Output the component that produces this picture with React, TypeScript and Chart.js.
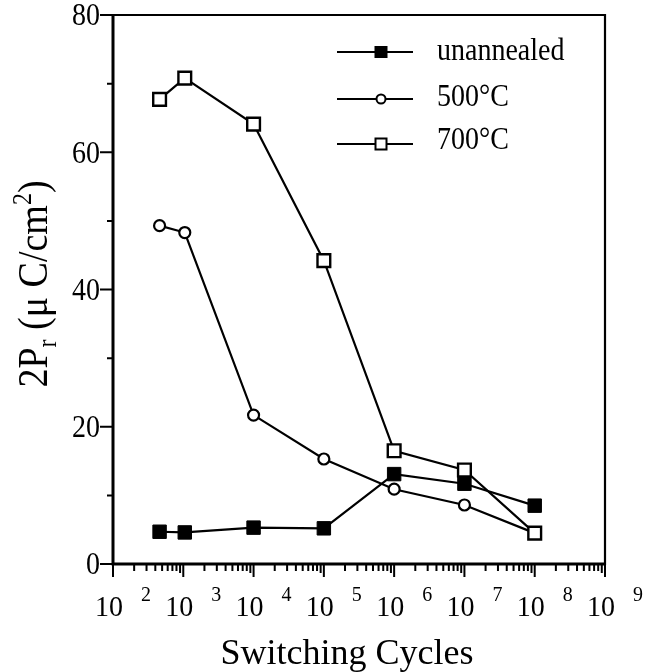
import React, { useEffect, useRef } from "react";
import { Chart, registerables } from "chart.js";
Chart.register(...registerables);

// ---- data ----
const cycles = [4.6e2, 1.05e3, 1e4, 1e5, 1e6, 1e7, 1e8];
const unannealed = [4.7, 4.6, 5.3, 5.2, 13.1, 11.7, 8.5];
const c500 = [49.3, 48.3, 21.7, 15.3, 10.9, 8.6, 4.5];
const c700 = [67.7, 70.8, 64.1, 44.2, 16.5, 13.7, 4.5];
const seriesLabels = ["unannealed", "500\u00B0C", "700\u00B0C"];
const xExponents = [2, 3, 4, 5, 6, 7, 8, 9];
const yTicks = [0, 20, 40, 60, 80];
const yMinorTicks = [10, 30, 50, 70];
const xTitle = "Switching Cycles";

const FONT = "'Liberation Serif', 'Times New Roman', serif";

function textS(ctx: CanvasRenderingContext2D, t: string, x: number, y: number, sy: number) {
  ctx.save();
  ctx.translate(x, y);
  ctx.scale(1, sy);
  ctx.fillText(t, 0, 0);
  ctx.restore();
}

const decorPlugin = {
  id: "decor",
  afterDraw(chart: any) {
    const ctx = chart.ctx as CanvasRenderingContext2D;
    const xs = chart.scales.x;
    const ys = chart.scales.y;
    const ca = chart.chartArea;
    const L = ca.left, R = ca.right, T = ca.top, B = ca.bottom;
    ctx.save();
    ctx.strokeStyle = "#000";
    ctx.fillStyle = "#000";
    ctx.lineCap = "butt";
    // frame
    ctx.lineWidth = 3;
    ctx.beginPath();
    ctx.moveTo(L, T - 1); ctx.lineTo(L, B + 1.5);
    ctx.moveTo(L - 1.5, B); ctx.lineTo(R + 1, B);
    ctx.stroke();
    ctx.lineWidth = 2.2;
    ctx.beginPath();
    ctx.moveTo(L, T); ctx.lineTo(R, T);
    ctx.moveTo(R, T - 1); ctx.lineTo(R, B + 1);
    ctx.stroke();
    // y ticks
    ctx.lineWidth = 2;
    ctx.beginPath();
    yTicks.forEach((v) => {
      const y = ys.getPixelForValue(v);
      ctx.moveTo(L - 13, y); ctx.lineTo(L, y);
    });
    yMinorTicks.forEach((v) => {
      const y = ys.getPixelForValue(v);
      ctx.moveTo(L - 6, y); ctx.lineTo(L, y);
    });
    ctx.stroke();
    // x ticks
    ctx.beginPath();
    xExponents.forEach((e, i) => {
      const x = xs.getPixelForValue(Math.pow(10, e));
      ctx.moveTo(x, B); ctx.lineTo(x, B + 13);
      if (i < xExponents.length - 1) {
        for (let k = 2; k <= 9; k++) {
          const xm = xs.getPixelForValue(k * Math.pow(10, e));
          ctx.moveTo(xm, B); ctx.lineTo(xm, B + (k === 9 ? 9 : 7));
        }
      }
    });
    ctx.lineWidth = 2;
    ctx.stroke();
    // y tick labels
    ctx.font = `28px ${FONT}`;
    ctx.textAlign = "right";
    ctx.textBaseline = "middle";
    yTicks.forEach((v) => {
      textS(ctx, String(v), L - 13, ys.getPixelForValue(v) + 2, 1.15);
    });
    // x tick labels
    ctx.textBaseline = "alphabetic";
    ctx.textAlign = "center";
    xExponents.forEach((e) => {
      const x = xs.getPixelForValue(Math.pow(10, e));
      ctx.font = `28px ${FONT}`;
      textS(ctx, "10", x - 4, B + 52, 1.05);
      ctx.font = `20px ${FONT}`;
      textS(ctx, String(e), x + 33, B + 37, 1.05);
    });
    // x title
    ctx.font = `36px ${FONT}`;
    ctx.fillText(xTitle, (L + R) / 2 - 12, B + 100);
    // y title (rotated) 2P_r (μ C/cm^2)
    ctx.save();
    ctx.translate(47, 284);
    ctx.rotate(-Math.PI / 2);
    ctx.scale(1, 1.1);
    ctx.textAlign = "left";
    const big = `38px ${FONT}`;
    const small = `24px ${FONT}`;
    const parts: [string, string, number][] = [
      ["2P", big, 0],
      ["r", small, 8],
      [" (\u03BC C/cm", big, 0],
      ["2", small, -15],
      [")", big, 0],
    ];
    let total = 0;
    parts.forEach(([t, f]) => { ctx.font = f; total += ctx.measureText(t).width; });
    let cx = -total / 2;
    parts.forEach(([t, f, dy]) => {
      ctx.font = f;
      ctx.fillText(t, cx, dy);
      cx += ctx.measureText(t).width;
    });
    ctx.restore();
    // legend
    const rows = [
      { y: 52, tb: 60, style: "fsq" },
      { y: 99, tb: 106, style: "circ" },
      { y: 144, tb: 149, style: "osq" },
    ];
    rows.forEach((r, i) => {
      ctx.lineWidth = 2;
      ctx.beginPath();
      ctx.moveTo(337, r.y); ctx.lineTo(413, r.y);
      ctx.stroke();
      const mx = 381;
      if (r.style === "fsq") {
        ctx.fillRect(mx - 6.5, r.y - 6, 13, 12);
      } else if (r.style === "circ") {
        ctx.beginPath();
        ctx.arc(mx, r.y, 4.5, 0, Math.PI * 2);
        ctx.fillStyle = "#fff"; ctx.fill(); ctx.fillStyle = "#000";
        ctx.stroke();
      } else {
        ctx.fillStyle = "#fff";
        ctx.fillRect(mx - 5.5, r.y - 5.5, 11, 11);
        ctx.fillStyle = "#000";
        ctx.strokeRect(mx - 5.5, r.y - 5.5, 11, 11);
      }
      ctx.font = `28px ${FONT}`;
      ctx.textAlign = "left";
      ctx.textBaseline = "alphabetic";
      textS(ctx, seriesLabels[i], 437, r.tb, 1.15);
    });
    ctx.restore();
  },
};

export default function App() {
  const ref = useRef<HTMLCanvasElement | null>(null);
  useEffect(() => {
    document.body.style.margin = "0";
    const canvas = ref.current!;
    const mk = (ys: number[]) => cycles.map((x, i) => ({ x, y: ys[i] }));
    const chart = new Chart(canvas, {
      type: "line",
      data: {
        datasets: [
          {
            label: seriesLabels[0],
            data: mk(unannealed),
            borderColor: "#000",
            borderWidth: 2.2,
            pointStyle: "rect",
            pointRadius: 9.5,
            pointBackgroundColor: "#000",
            pointBorderColor: "#000",
            pointBorderWidth: 1,
            order: 0,
          },
          {
            label: seriesLabels[1],
            data: mk(c500),
            borderColor: "#000",
            borderWidth: 2.2,
            pointStyle: "circle",
            pointRadius: 5.5,
            pointBackgroundColor: "#fff",
            pointBorderColor: "#000",
            pointBorderWidth: 2.2,
            order: 2,
          },
          {
            label: seriesLabels[2],
            data: mk(c700),
            borderColor: "#000",
            borderWidth: 2.2,
            pointStyle: "rect",
            pointRadius: 9,
            pointBackgroundColor: "#fff",
            pointBorderColor: "#000",
            pointBorderWidth: 2.4,
            order: 1,
          },
        ],
      },
      options: {
        animation: false,
        responsive: false,
        maintainAspectRatio: false,
        layout: { padding: { left: 113, right: 54, top: 15, bottom: 108 } },
        plugins: { legend: { display: false }, tooltip: { enabled: false } },
        elements: { line: { tension: 0 } },
        scales: {
          x: { type: "logarithmic", min: 1e2, max: 1e9, display: false },
          y: { type: "linear", min: 0, max: 80, display: false },
        },
      },
      plugins: [decorPlugin],
    });
    return () => chart.destroy();
  }, []);
  return <canvas ref={ref} width={659} height={672} style={{ display: "block" }} />;
}
